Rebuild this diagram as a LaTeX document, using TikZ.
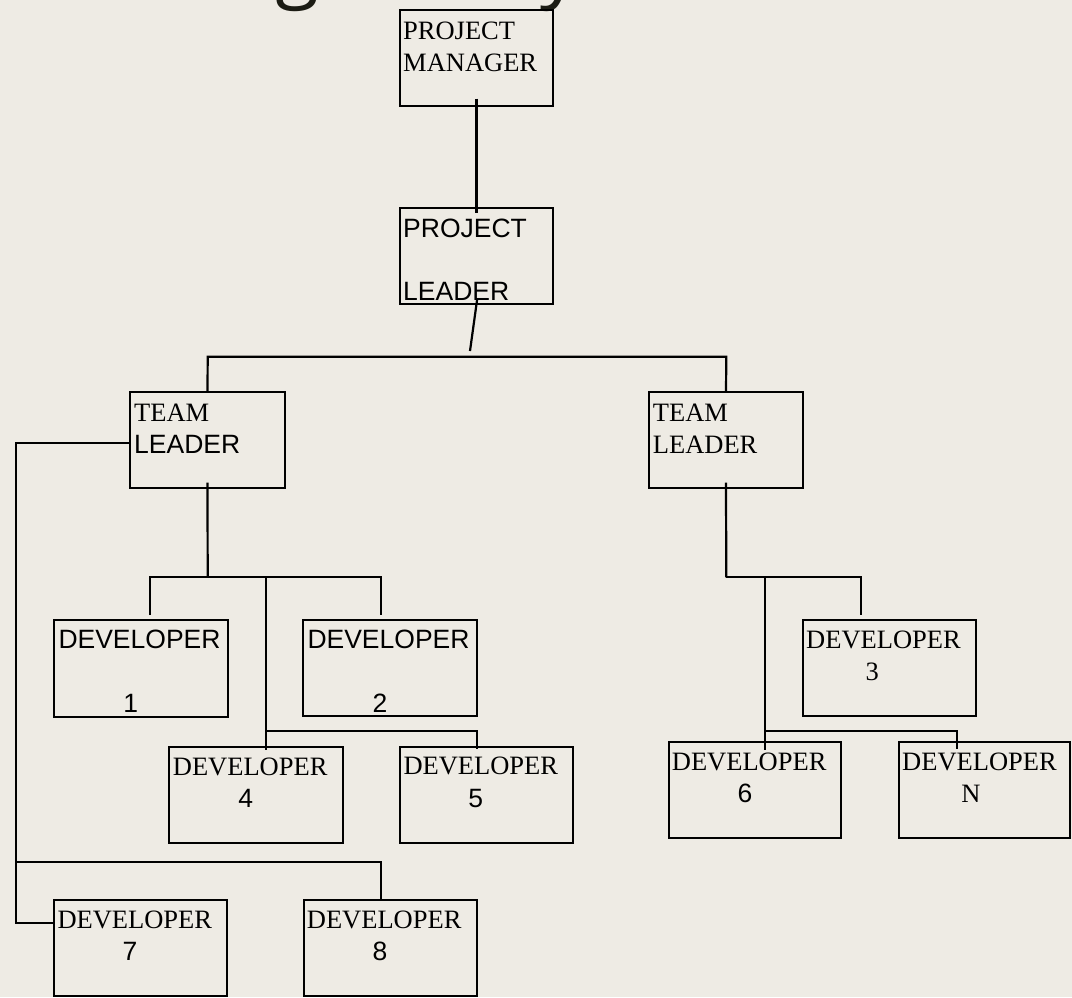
\documentclass[tikz,border=0pt]{standalone}
\usepackage{fontspec}
\newfontfamily\serifface{Liberation Serif}
\newfontfamily\sansface{Liberation Sans}
\newfontfamily\titleface{Open Sans}
\usetikzlibrary{calc}
\definecolor{paper}{HTML}{EEEBE4}
\definecolor{ink}{HTML}{1C1C14}
\begin{document}
\begin{tikzpicture}[x=1pt,y=-1pt,
  box/.style={draw,line width=2.2pt,inner sep=0pt,outer sep=0pt,anchor=north west},
  wh/.style 2 args={minimum width=#1pt,minimum height=#2pt},
  link/.style={line width=2.2pt},
  rm/.style={font=\serifface\fontsize{26.5}{30}\selectfont,inner sep=0pt,anchor=base west},
  sf/.style={font=\sansface\fontsize{26.5}{30}\selectfont,inner sep=0pt,anchor=base west},
  rmc/.style={rm,anchor=base},
  sfc/.style={sf,anchor=base},
  titletext/.style={font=\titleface\fontsize{80}{90}\selectfont,text=ink,inner sep=0pt,anchor=base}
]
\useasboundingbox (0,0) rectangle (1072,997);
\fill[paper] (0,0) rectangle (1072,997);
\clip (0,0) rectangle (1072,997);

% heading, only its descenders fall inside the page
\node[titletext] (hg) at (297,-8) {g};
\node[titletext] (hy) at (561,-8) {y};

% boxes
\node[box,wh={153}{96}]     (pm)   at (400,10)    {};
\node[box,wh={153}{96}]     (pl)   at (400,208)   {};
\node[box,wh={155}{96}]     (tl1)  at (130,392)   {};
\node[box,wh={154}{96}]     (tl2)  at (649,392)   {};
\node[box,wh={173.7}{96.7}] (dev1) at (54,620)    {};
\node[box,wh={174}{96}]     (dev2) at (303.3,620.3) {};
\node[box,wh={173.3}{96}]   (dev3) at (802.7,620) {};
\node[box,wh={173.4}{96.6}] (dev4) at (169.3,746.7) {};
\node[box,wh={172.7}{96.3}] (dev5) at (400,746.7) {};
\node[box,wh={172.6}{96}]   (dev6) at (668.7,742.3) {};
\node[box,wh={171.3}{96}]   (devn) at (898.7,742.3) {};
\node[box,wh={173.3}{96}]   (dev7) at (54,900)    {};
\node[box,wh={173.3}{96}]   (dev8) at (304,900)   {};

% labels
\node[rm] (pm-a) at (403,39) {PROJECT};
\node[rm] (pm-b) at (403,71) {MANAGER};
\node[sf] (pl-a) at (403,237) {PROJECT};
\node[sf] (pl-b) at (403,300) {LEADER};
\node[rm] (tl1-a) at (134,421.7) {TEAM};
\node[sf] (tl1-b) at (134,453) {LEADER};
\node[rm] (tl2-a) at (652.7,421.7) {TEAM};
\node[rm] (tl2-b) at (652.7,453) {LEADER};
\node[sf]  (d1-a) at (58.3,648) {DEVELOPER};
\node[sfc] (d1-b) at (130.7,712) {1};
\node[sf]  (d2-a) at (307.3,648) {DEVELOPER};
\node[sfc] (d2-b) at (380,712.7) {2};
\node[rm]  (d3-a) at (806,648.3) {DEVELOPER};
\node[rmc] (d3-b) at (872.3,680) {3};
\node[rm]  (d4-a) at (172.7,775) {DEVELOPER};
\node[sfc] (d4-b) at (245.7,807.3) {4};
\node[rm]  (d5-a) at (403.3,774.5) {DEVELOPER};
\node[sfc] (d5-b) at (475.7,807) {5};
\node[rm]  (d6-a) at (671.7,770.5) {DEVELOPER};
\node[sfc] (d6-b) at (745,802) {6};
\node[rm]  (dn-a) at (902,770.5) {DEVELOPER};
\node[rmc] (dn-b) at (971,802) {N};
\node[rm]  (d7-a) at (57.3,928.3) {DEVELOPER};
\node[sfc] (d7-b) at (130,960) {7};
\node[rm]  (d8-a) at (306.7,928.3) {DEVELOPER};
\node[sfc] (d8-b) at (380,960) {8};

% junction points
\coordinate (plend) at (470,351);
\coordinate (barl)  at (207.7,356.7);
\coordinate (barr)  at (726.3,356.7);
\coordinate (lside) at (16,443.3);
\coordinate (lmid)  at (16,861.7);
\coordinate (lbot)  at (16,922.7);
\coordinate (d8j)   at (380.7,861.7);
\coordinate (j1)    at (207.7,577.3);
\coordinate (j1l)   at (150,577.3);
\coordinate (j1r)   at (380.7,577.3);
\coordinate (d1t)   at (150,615);
\coordinate (d2t)   at (380.7,615);
\coordinate (j2)    at (265.7,577.3);
\coordinate (d4t)   at (265.7,750);
\coordinate (j3)    at (265.7,731);
\coordinate (j3r)   at (476.7,731);
\coordinate (d5t)   at (476.7,749);
\coordinate (k1)    at (726.3,577.3);
\coordinate (k1r)   at (860.7,577.3);
\coordinate (d3t)   at (860.7,615.3);
\coordinate (k2)    at (764.7,577.3);
\coordinate (d6t)   at (764.7,750);
\coordinate (k3)    at (764.7,731);
\coordinate (k3r)   at (956.7,731);
\coordinate (dnt)   at (956.7,749);

% connectors
\draw[link,shorten <=-7.5pt,shorten >=-5pt] (pm.south) -- (pl.north);
\draw[link,shorten <=-4pt] (pl.south) -- (plend);
\draw[link] (tl1.north) -- (barl) -- (barr) -- (tl2.north);
\draw[link] (tl1.west |- lside) -- (lside) -- (lbot) -- (dev7.west |- lbot);
\draw[link] (lmid) -- (d8j) -- (d8j |- dev8.north);
\draw[link,shorten <=-5.3pt] (tl1.south) -- (j1);
\draw[link] (d1t) -- (j1l) -- (j1r) -- (d2t);
\draw[link] (j2) -- (d4t);
\draw[link] (j3) -- (j3r) -- (d5t);
\draw[link,shorten <=-5.3pt] (tl2.south) -- (k1);
\draw[link] (k1) -- (k1r) -- (d3t);
\draw[link] (k2) -- (d6t);
\draw[link] (k3) -- (k3r) -- (dnt);
\end{tikzpicture}
\end{document}
